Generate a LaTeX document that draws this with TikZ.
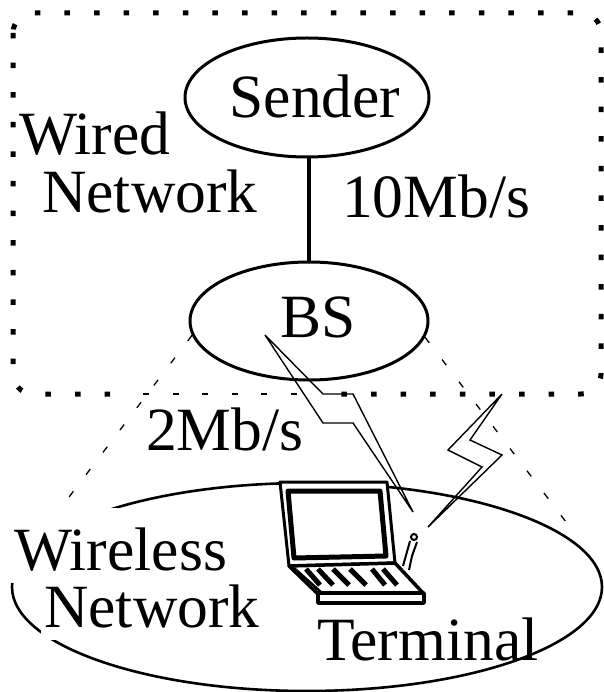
\documentclass[tikz,border=0pt]{standalone}
\usepackage{fontspec}
\setmainfont{Liberation Serif}
\usetikzlibrary{shapes.geometric}
\begin{document}
\begin{tikzpicture}[x=1pt,y=-1pt,
  lbl/.style={inner sep=0pt, anchor=base west, font=\fontsize{61.5}{70}\selectfont},
  wirebox/.style={line width=5pt, dash pattern=on 5.5pt off 24.1pt, rounded corners=20pt},
  thindots/.style={line width=1.3pt, dash pattern=on 6pt off 23.6pt},
  cone/.style={line width=1.3pt, dash pattern=on 7pt off 21pt},
  host/.style={ellipse, draw, line width=3pt, inner sep=0pt},
  bolt/.style={line width=1.4pt, line join=miter},
  lapthick/.style={line width=3.5pt, line join=round, fill=white},
  keystroke/.style={line width=5pt},
]
\useasboundingbox (0,0) rectangle (603,692);

% wired network boundary
\draw[wirebox] (13,13) rectangle (601,394);
\fill[white] (128,388) rectangle (318,400);
\draw[thindots] (143,394) -- (320,394);

% wireless cell
\node[ellipse, draw, line width=2.6pt, inner sep=0pt,
      minimum width=590pt, minimum height=208pt] (cell) at (307,587) {};

% hosts of the wired part
\node[host, minimum width=244pt, minimum height=119pt] (sender) at (307,97.5) {};
\node[host, minimum width=238pt, minimum height=118pt] (bs) at (309,321) {};
\draw[line width=3.5pt] (sender.south -| bs.north) -- (bs.north);

% coverage cone of the base station
\coordinate (coneL) at (47,526);
\coordinate (coneR) at (576,535);
\draw[cone] (bs.187) -- (coneL);
\draw[cone] (bs.-8) -- (coneR);

% radio links
\draw[bolt] (265,335) -- (323,394) -- (353,394) -- (413,512) -- (353,423) -- (323,423) -- cycle;
\draw[bolt] (502,394) -- (448,450) -- (482,467) -- (428,527) -- (502,455) -- (470,440) -- cycle;

% laptop terminal
\draw[lapthick, line width=3pt] (280,482) -- (387,482) -- (395,563) -- (289,566) -- cycle;
\draw[lapthick, line width=5pt] (288,491) -- (380,491) -- (386,556) -- (294,558) -- cycle;
\draw[lapthick] (289,566) -- (395,563) -- (423,593) -- (320,596) -- cycle;
\draw[line width=2.5pt] (294,568) -- (322,593);
\draw[lapthick] (318,593) rectangle (424,603);
\foreach \a/\b in {306/320, 318/333, 333/349, 350/366, 372/385, 383/397}
  \draw[keystroke] (\a,569) -- (\b,585);
\draw[line width=2pt] (410,541) -- (403,566);
\draw[line width=2pt] (417,542) -- (412,556) -- (409,570);
\draw[line width=2pt, fill=white] (414,537) circle (3pt);

% labels
\node[lbl, anchor=base] (sendertxt) at (315,118) {Sender};
\node[lbl, anchor=base] (bstxt) at (318,337) {BS};
\node[lbl] (wired) at (19,155) {Wired};
\node[lbl] (wirednet) at (42,213) {Network};
\node[lbl] (fast) at (342,218) {10Mb/s};
\node[lbl] (slow) at (146,450) {2Mb/s};
\node[lbl, fill=white, inner xsep=6pt, text height=62pt, text depth=13pt] (wireless) at (8,570) {Wireless};
\node[lbl, fill=white, inner xsep=3pt, text height=44pt, text depth=13pt] (wirelessnet) at (41,627) {Network};
\node[lbl] (terminal) at (317,660) {Terminal};
\end{tikzpicture}
\end{document}
